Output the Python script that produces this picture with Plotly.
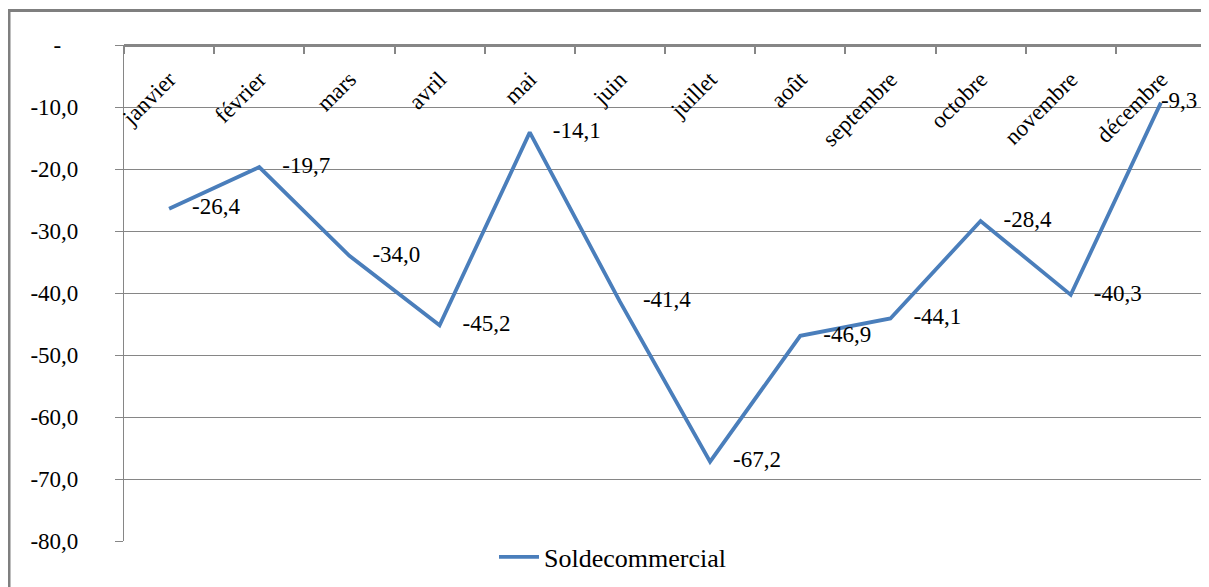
import plotly.graph_objects as go

months = ["janvier", "février", "mars", "avril", "mai", "juin", "juillet",
          "août", "septembre", "octobre", "novembre", "décembre"]
solde = [-26.4, -19.7, -34.0, -45.2, -14.1, -41.4, -67.2, -46.9, -44.1, -28.4, -40.3, -9.3]
series_name = "Soldecommercial"
y_ticks = [0, -10, -20, -30, -40, -50, -60, -70, -80]
y_ticktext = ["-\u00a0\u00a0\u00a0", "-10,0", "-20,0", "-30,0", "-40,0", "-50,0", "-60,0", "-70,0", "-80,0"]

# page has an 8px body margin; figure is sized to fit the 1209x587 window
W, H = 1201, 579
L, R, T, B = 116, 3, 36.5, 46
pw = W - L - R
ph = H - T - B

FONT = "Times New Roman, Liberation Serif, serif"
COLOR = "#4A7EBB"
GRID = "#868686"

def fmt(v):
    return ("%.1f" % v).replace(".", ",")

labels = []
for i, v in enumerate(solde):
    pad = "" if i == len(solde) - 1 else "\u00a0\u00a0\u00a0\u00a0"
    labels.append(pad + fmt(v))

fig = go.Figure()
fig.add_trace(go.Scatter(
    x=months, y=solde, mode="lines+text", name=series_name,
    line=dict(color=COLOR, width=3.8),
    text=labels, textposition="middle right",
    textfont=dict(family=FONT, size=23, color="black"),
    cliponaxis=False,
))

fig.update_layout(
    width=W, height=H,
    margin=dict(l=L, r=R, t=T, b=B, autoexpand=False),
    paper_bgcolor="white", plot_bgcolor="white",
    font=dict(family=FONT, size=23, color="black"),
    showlegend=True,
    legend=dict(orientation="h", x=(486 - L) / pw, xanchor="left",
                y=(H - B - 549) / ph, yanchor="middle",
                font=dict(family=FONT, size=26, color="black"),
                bgcolor="rgba(0,0,0,0)", itemwidth=40),
    xaxis=dict(
        type="category", anchor="free", position=1, side="bottom",
        showline=True, linecolor=GRID, linewidth=2.5,
        ticks="outside", ticklen=7, tickcolor=GRID, tickwidth=1.5,
        tickson="boundaries", tickangle=-45, ticklabelstandoff=10,
        tickfont=dict(family=FONT, size=23, color="black"),
        showgrid=False, zeroline=False, range=[-0.5, 11.5],
    ),
    yaxis=dict(
        range=[-80, 0], tickvals=y_ticks, ticktext=y_ticktext,
        showline=True, linecolor=GRID, linewidth=1.2,
        ticks="outside", ticklen=8, tickcolor=GRID, tickwidth=1,
        showgrid=True, gridcolor=GRID, gridwidth=1,
        zeroline=False, ticklabelstandoff=32,
        tickfont=dict(family=FONT, size=23, color="black"),
    ),
)

# outer chart frame
fig.add_shape(type="rect", xref="paper", yref="paper",
              x0=(1.0 - L) / pw, x1=(W + 5 - L) / pw,
              y0=-(B + 10) / ph, y1=1 + (T - 2) / ph,
              line=dict(color="#7F7F7F", width=3), layer="below")

fig.write_html("out.html")
